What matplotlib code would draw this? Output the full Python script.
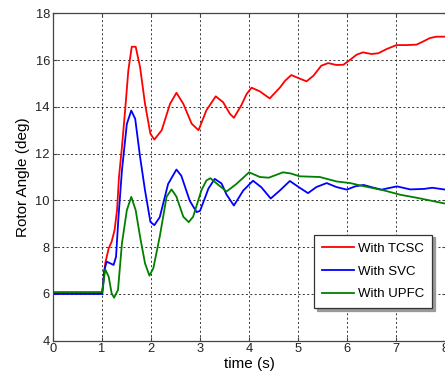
"""
Rotor angle response with TCSC / SVC / UPFC.
"""

import matplotlib
matplotlib.use("Agg")  # non-interactive backend for saving files
import matplotlib.pyplot as plt

plt.rcParams["font.family"] = ["Liberation Sans", "DejaVu Sans"]

# Data (time in s, rotor angle in deg)
t_tcsc = [0, 1.0, 1.02, 1.07, 1.14, 1.2, 1.26, 1.31, 1.35, 1.41, 1.48, 1.54,
          1.61, 1.69, 1.78, 1.88, 1.99, 2.07, 2.22, 2.39, 2.52, 2.66, 2.83,
          2.97, 3.13, 3.32, 3.47, 3.61, 3.69, 3.84, 3.95, 4.05, 4.22, 4.42,
          4.63, 4.73, 4.86, 4.97, 5.17, 5.31, 5.47, 5.61, 5.78, 5.92, 6.05,
          6.19, 6.32, 6.49, 6.63, 6.8, 7.0, 7.2, 7.41, 7.54, 7.68, 7.81, 8.0]
v_tcsc = [6.02, 6.02, 6.3, 7.31, 7.95, 8.23, 8.73, 9.58, 11.0, 12.28, 13.98,
          15.55, 16.57, 16.57, 15.69, 14.13, 12.85, 12.6, 13.0, 14.13, 14.6,
          14.13, 13.28, 13.0, 13.85, 14.45, 14.2, 13.7, 13.53, 14.06, 14.55,
          14.82, 14.66, 14.36, 14.83, 15.11, 15.36, 15.26, 15.09, 15.33, 15.76,
          15.87, 15.79, 15.8, 16.0, 16.23, 16.33, 16.26, 16.29, 16.47, 16.64,
          16.64, 16.66, 16.79, 16.94, 17.0, 17.0]

t_svc = [0, 1.01, 1.05, 1.1, 1.17, 1.24, 1.29, 1.34, 1.41, 1.51, 1.6, 1.68,
         1.78, 1.88, 1.99, 2.07, 2.18, 2.35, 2.52, 2.62, 2.79, 2.93, 3.0, 3.1,
         3.17, 3.3, 3.44, 3.54, 3.69, 3.88, 4.08, 4.25, 4.44, 4.63, 4.83, 5.03,
         5.2, 5.37, 5.58, 5.78, 5.99, 6.16, 6.33, 6.54, 6.7, 7.01, 7.28, 7.56,
         7.73, 8.0]
v_svc = [6.0, 6.0, 7.0, 7.38, 7.31, 7.24, 7.59, 9.3, 11.28, 13.27, 13.84,
         13.49, 11.85, 10.43, 9.08, 8.94, 9.28, 10.7, 11.32, 11.05, 9.99, 9.5,
         9.55, 10.1, 10.5, 10.92, 10.72, 10.25, 9.78, 10.42, 10.84, 10.56,
         10.08, 10.43, 10.83, 10.54, 10.31, 10.57, 10.74, 10.57, 10.46, 10.6,
         10.66, 10.54, 10.46, 10.6, 10.47, 10.49, 10.54, 10.46]

t_upfc = [0, 1.01, 1.03, 1.07, 1.14, 1.2, 1.25, 1.33, 1.41, 1.51, 1.6, 1.69,
          1.78, 1.88, 1.97, 2.05, 2.18, 2.32, 2.42, 2.52, 2.66, 2.77, 2.86,
          3.03, 3.13, 3.21, 3.37, 3.54, 3.74, 4.0, 4.22, 4.4, 4.69, 4.85, 5.03,
          5.44, 5.78, 6.06, 6.26, 6.74, 7.08, 7.42, 8.0]
v_upfc = [6.08, 6.08, 6.4, 7.05, 6.74, 6.03, 5.84, 6.17, 8.16, 9.58, 10.15,
          9.58, 8.44, 7.31, 6.78, 7.1, 8.45, 10.16, 10.47, 10.16, 9.3, 9.07,
          9.3, 10.44, 10.85, 10.95, 10.67, 10.38, 10.7, 11.2, 11.0, 10.97, 11.2,
          11.15, 11.03, 11.0, 10.81, 10.74, 10.64, 10.43, 10.24, 10.11, 9.86]

x_ticks = [0, 1, 2, 3, 4, 5, 6, 7, 8]
y_ticks = [4, 6, 8, 10, 12, 14, 16, 18]

fig = plt.figure(figsize=(4.45, 3.78), dpi=100)
ax = fig.add_axes([52.7 / 445, 1 - 340.7 / 378, 392.8 / 445, 327.4 / 378])

ax.plot(t_tcsc, v_tcsc, color="#ff0000", lw=1.3, label="With TCSC")
ax.plot(t_svc, v_svc, color="#0000ff", lw=1.3, label="With SVC")
ax.plot(t_upfc, v_upfc, color="#007f00", lw=1.3, label="With UPFC")

ax.set_xlim(0, 8)
ax.set_ylim(4, 18)
ax.set_xticks(x_ticks)
ax.set_yticks(y_ticks)
ax.tick_params(direction="in", top=True, right=True, labelsize=9.3,
               length=3, width=0.8, color="#444444", labelcolor="#222222",
               pad=2)
for s in ax.spines.values():
    s.set_color("#444444")
    s.set_linewidth(0.9)

ax.grid(True, color="#333333", linestyle=(0, (2, 2.5)), linewidth=0.7)
ax.set_axisbelow(True)

ax.set_xlabel("time (s)", fontsize=11, labelpad=1)
ax.set_ylabel("Rotor Angle (deg)", fontsize=11, labelpad=4)

leg = ax.legend(loc="lower left", bbox_to_anchor=(0.665, 0.099),
                fontsize=9.5, frameon=True, fancybox=False,
                shadow={"color": "#9a9a9a", "alpha": 1},
                handlelength=2.45, handletextpad=0.3, labelspacing=0.8,
                borderpad=0.6, borderaxespad=0)
leg.get_frame().set_edgecolor("#333333")
leg.get_frame().set_linewidth(0.9)
leg.get_frame().set_alpha(1)

fig.savefig("out.png", dpi=100)
